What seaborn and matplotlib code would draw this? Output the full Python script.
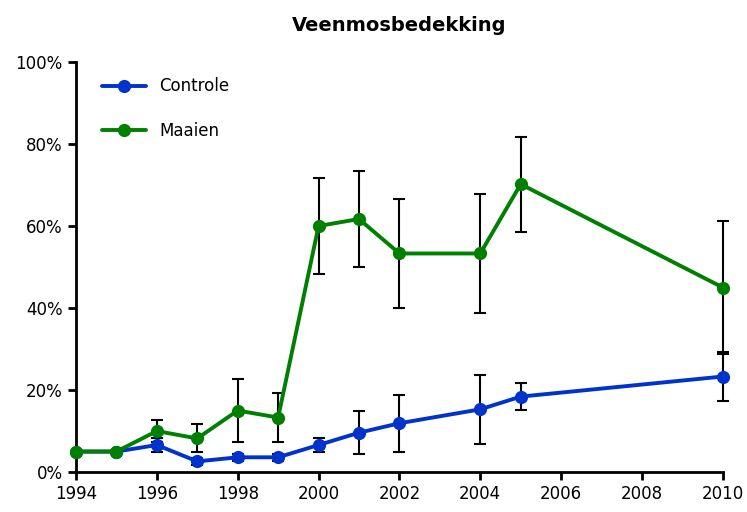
import numpy as np
import pandas as pd
import matplotlib
matplotlib.use("Agg")
import matplotlib.pyplot as plt
import seaborn as sns
from matplotlib.ticker import PercentFormatter

# data
years = [1994, 1995, 1996, 1997, 1998, 1999, 2000, 2001, 2002, 2004, 2005, 2010]
controle = [5.0, 5.0, 6.6, 2.6, 3.6, 3.6, 6.6, 9.6, 11.9, 15.3, 18.4, 23.3]
controle_err = [0.0, 0.0, 1.7, 0.9, 0.8, 0.8, 1.7, 5.3, 7.0, 8.4, 3.3, 5.9]
maaien = [5.0, 5.0, 10.0, 8.2, 15.0, 13.3, 60.0, 61.7, 53.3, 53.3, 70.2, 45.0]
maaien_err = [0.0, 0.0, 2.7, 3.4, 7.6, 5.9, 11.6, 11.7, 13.4, 14.6, 11.6, 16.2]

df = pd.DataFrame({
    "jaar": years * 2,
    "bedekking": controle + maaien,
    "fout": controle_err + maaien_err,
    "behandeling": ["Controle"] * len(years) + ["Maaien"] * len(years),
})

sns.set_style("ticks", {"axes.edgecolor": "black", "text.color": "black",
                        "xtick.color": "black", "ytick.color": "black"})
plt.rcParams['font.family'] = ['DejaVu Sans']

kleuren = {"Controle": "#0033cc", "Maaien": "#008000"}

fig = plt.figure(figsize=(7.47, 5.12), dpi=100)
ax = fig.add_axes([0.1017, 0.078, 0.866, 0.801])

# error bars first, lines on top
for naam, groep in df.groupby("behandeling"):
    ax.errorbar(groep["jaar"], groep["bedekking"], yerr=groep["fout"],
                fmt="none", ecolor="black", elinewidth=1.5, capsize=4,
                capthick=1.5, zorder=2, clip_on=False)

sns.lineplot(data=df, x="jaar", y="bedekking", hue="behandeling",
             palette=kleuren, marker="o", markersize=9.5, markeredgewidth=0,
             linewidth=2.8, ax=ax, zorder=3, clip_on=False)

ax.set_xlim(1994, 2010)
ax.set_ylim(0, 100)
ax.set_xticks(range(1994, 2011, 2))
ax.set_yticks(range(0, 101, 20))
ax.yaxis.set_major_formatter(PercentFormatter(decimals=0))
ax.set_xlabel("")
ax.set_ylabel("")
ax.tick_params(axis="both", labelsize=12, width=2, length=6, direction="out",
               colors="black")
for kant in ["left", "bottom"]:
    ax.spines[kant].set_linewidth(2)
sns.despine(ax=ax)

ax.set_title("Veenmosbedekking", fontsize=14, fontweight="bold", pad=22,
             color="black")

leg = ax.legend(loc="upper left", frameon=False, fontsize=12,
                labelspacing=1.6, handlelength=2.6, borderaxespad=0.4,
                bbox_to_anchor=(0.02, 0.995))
for lijn in leg.get_lines():
    lijn.set_linewidth(2.8)
for tekst in leg.get_texts():
    tekst.set_color("black")

fig.savefig("out.png", dpi=100)
